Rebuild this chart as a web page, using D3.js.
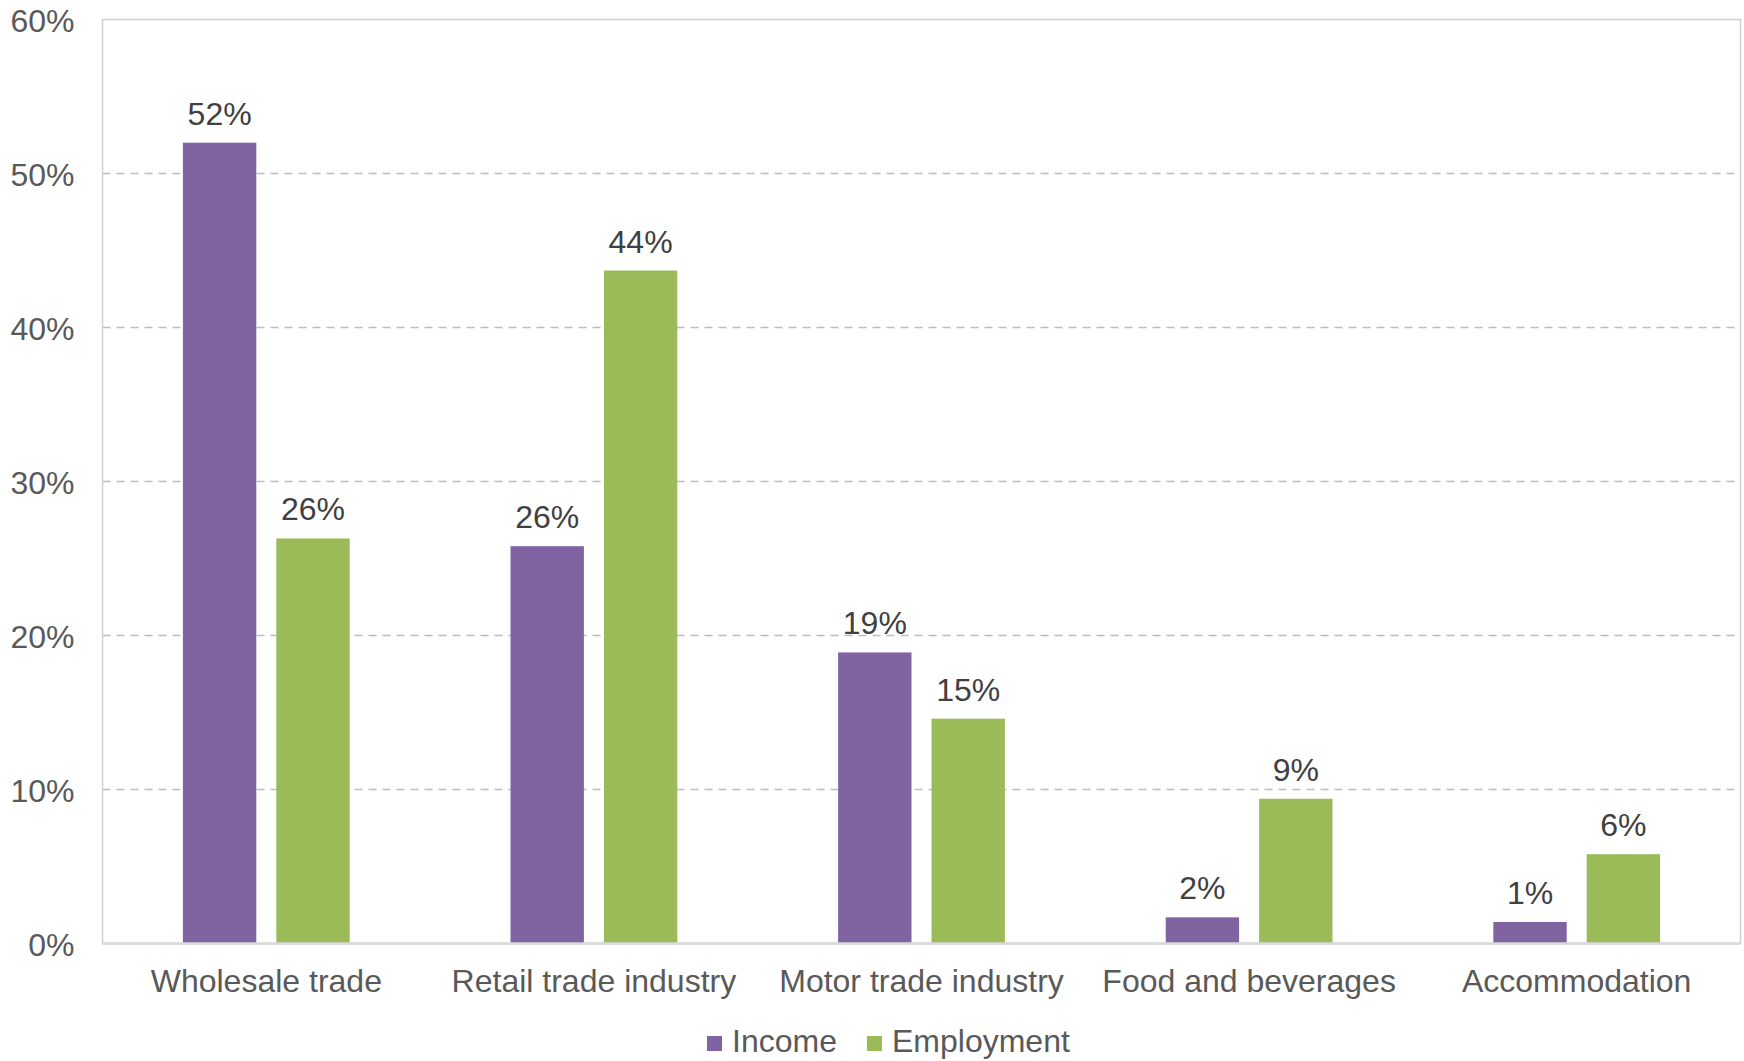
<!DOCTYPE html>
<html>
<head>
<meta charset="utf-8">
<script src="https://cdn.jsdelivr.net/npm/d3@7"></script>
<style>
  body { margin: 0; background: #fff; }
  svg { display: block; font-family: "Liberation Sans", Arial, sans-serif; }
</style>
</head>
<body>
<div class="chart"></div>
<script>
    const categories = ["Wholesale trade", "Retail trade industry", "Motor trade industry", "Food and beverages", "Accommodation"];
    const series_names = ["Income", "Employment"];
    const income_values = [52.0, 25.8, 18.9, 1.7, 1.4];
    const employment_values = [26.3, 43.7, 14.6, 9.4, 5.8];
    const y_ticks = [0, 10, 20, 30, 40, 50, 60];
    const series_colors = ["#8064A2", "#9BBB59"];

    const width = 1744, height = 1061;
    const margin = {top: 19.5, right: 3.5, bottom: 117.5, left: 102.5};
    const plot_w = width - margin.left - margin.right;
    const plot_h = height - margin.top - margin.bottom;
    const font_size = 32;

    const svg = d3.select('.chart').append('svg')
        .attr('width', width).attr('height', height);

    const g = svg.append('g')
        .attr('transform', 'translate(' + margin.left + ',' + margin.top + ')');

    const x = d3.scaleBand().domain(categories).range([0, plot_w]).paddingInner(0).paddingOuter(0);
    const y = d3.scaleLinear().domain([0, 60]).range([plot_h, 0]);

    // bar width and gap within each category
    const bar_w = x.bandwidth() * 0.224;
    const bar_gap = 20;
    const x_series = d3.scaleOrdinal().domain(series_names)
        .range([-bar_gap / 2 - bar_w, bar_gap / 2]);

    // gridlines
    g.append('g')
        .selectAll('line')
        .data(y_ticks.filter(d => d > 0 && d < 60))
        .enter().append('line')
          .attr('x1', 0).attr('x2', plot_w)
          .attr('y1', d => y(d)).attr('y2', d => y(d))
          .attr('stroke', '#bdbdbd')
          .attr('stroke-width', 1.5)
          .attr('stroke-dasharray', '8,6');

    // plot frame
    g.append('rect')
        .attr('x', 0).attr('y', 0)
        .attr('width', plot_w).attr('height', plot_h)
        .attr('fill', 'none')
        .attr('stroke', '#cfcfcf')
        .attr('stroke-width', 1.5);

    // y axis labels
    const y_axis = d3.axisLeft(y).tickValues(y_ticks).tickFormat(d => d + '%').tickSize(0).tickPadding(28);
    g.append('g').call(y_axis)
        .call(s => s.select('.domain').remove())
        .selectAll('text')
          .attr('font-size', font_size)
          .attr('font-family', '"Liberation Sans", Arial, sans-serif')
          .attr('fill', '#595959')
          .attr('dy', '0.36em');

    const rows = categories.map((c, i) => ({
        category: c,
        values: [
            {name: series_names[0], value: income_values[i]},
            {name: series_names[1], value: employment_values[i]}
        ]
    }));

    const groups = g.append('g').selectAll('g')
        .data(rows)
        .enter().append('g')
          .attr('transform', d => 'translate(' + (x(d.category) + x.bandwidth() / 2) + ',0)');

    groups.selectAll('rect')
        .data(d => d.values)
        .enter().append('rect')
          .attr('x', d => x_series(d.name))
          .attr('y', d => y(d.value))
          .attr('width', bar_w)
          .attr('height', d => plot_h - y(d.value))
          .attr('fill', (d, i) => series_colors[i]);

    groups.selectAll('text')
        .data(d => d.values)
        .enter().append('text')
          .attr('x', d => x_series(d.name) + bar_w / 2)
          .attr('y', d => y(d.value) - 18)
          .attr('text-anchor', 'middle')
          .attr('font-size', font_size)
          .attr('fill', '#404040')
          .text(d => Math.round(d.value) + '%');

    // bottom axis line
    g.append('line')
        .attr('x1', 0).attr('x2', plot_w)
        .attr('y1', plot_h).attr('y2', plot_h)
        .attr('stroke', '#d9d9d9')
        .attr('stroke-width', 2.5);

    // category labels
    const x_axis = d3.axisBottom(x).tickSize(0).tickPadding(0);
    g.append('g').attr('transform', 'translate(0,' + plot_h + ')').call(x_axis)
        .call(s => s.select('.domain').remove())
        .selectAll('text')
          .attr('font-size', font_size)
          .attr('font-family', '"Liberation Sans", Arial, sans-serif')
          .attr('fill', '#595959')
          .attr('dy', null)
          .attr('y', 48);

    // legend
    const legend_x = [707, 867];
    const legend = svg.append('g').selectAll('g')
        .data(series_names)
        .enter().append('g')
          .attr('transform', (d, i) => 'translate(' + legend_x[i] + ',1036)');
    legend.append('rect')
        .attr('width', 15).attr('height', 15)
        .attr('fill', (d, i) => series_colors[i]);
    legend.append('text')
        .attr('x', 25).attr('y', 15.5)
        .attr('font-size', font_size)
        .attr('fill', '#595959')
        .text(d => d);
</script>
</body>
</html>
